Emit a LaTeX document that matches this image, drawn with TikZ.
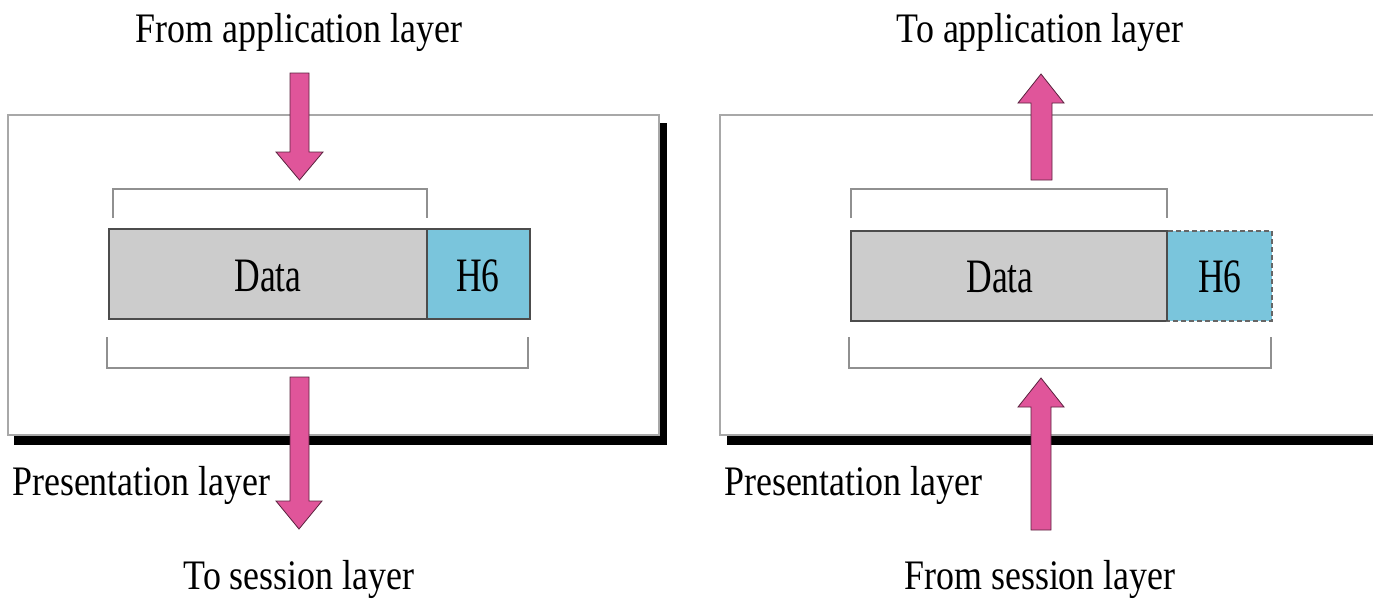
\documentclass[tikz,border=0pt]{standalone}
\usepackage{fontspec}
\setmainfont{Liberation Serif}
\newcommand{\lbl}[1]{\scalebox{0.855}[1]{\fontsize{42}{50}\selectfont #1}}
\newcommand{\blbl}[1]{\scalebox{0.74}[1]{\fontsize{48}{56}\selectfont #1}}
\definecolor{pinkarrow}{HTML}{E0559A}
\definecolor{hcyan}{HTML}{7AC5DC}
\definecolor{dgray}{HTML}{CCCCCC}
\definecolor{framegray}{HTML}{A8A8A8}
\definecolor{brgray}{HTML}{909090}
\tikzset{
  frame/.style={draw=framegray, line width=2pt, fill=white},
  shadowbar/.style={fill=black},
  databox/.style={draw=black!70, line width=1.2pt, fill=dgray},
  hbox/.style={draw=black!70, line width=1.2pt, fill=hcyan},
  hdash/.style={draw=black!60, line width=1.2pt, dashed, dash pattern=on 5pt off 3pt, fill=hcyan},
  bracket/.style={draw=brgray, line width=1.5pt},
  blockarrow/.style={fill=pinkarrow, draw=black!60!pinkarrow, line width=0.8pt, line join=miter},
  lab/.style={inner sep=0pt, anchor=base}
}
\begin{document}
\begin{tikzpicture}[x=1pt, y=-1pt]
\useasboundingbox (0,0) rectangle (1373,598);
% ---------- left panel ----------
\fill[shadowbar] (14,436) rectangle (667,445);
\fill[shadowbar] (659,123) rectangle (667,445);
\draw[frame] (8,115) rectangle (659,435);
\draw[databox] (109,229) rectangle (427,319);
\draw[hbox] (427,229) rectangle (530,319);
\node[lab] (ldata) at (268,291) {\blbl{Data}};
\node[lab] (lh6) at (478,291) {\blbl{H6}};
\draw[bracket] (113,218) -- (113,189) -- (427,189) -- (427,218);
\draw[bracket] (107,337) -- (107,368) -- (528,368) -- (528,337);
% top arrow (down)
\draw[blockarrow] (290,73) -- (309,73) -- (309,152) -- (323,152) -- (299.5,180) -- (276,152) -- (290,152) -- cycle;
% bottom arrow (down)
\draw[blockarrow] (290,377) -- (309,377) -- (309,501) -- (322,501) -- (299,529) -- (276,501) -- (290,501) -- cycle;
\node[lab] (lfrom) at (299,42) {\lbl{From application layer}};
\node[lab] (lto) at (299,589) {\lbl{To session layer}};
\node[lab, anchor=base west] (lpres) at (12,495) {\lbl{Presentation layer}};
% ---------- right panel ----------
\fill[shadowbar] (727,436) rectangle (1380,445);
\draw[frame] (720,115) rectangle (1385,435);
\draw[databox] (851,231) rectangle (1167,321);
\draw[hdash] (1167,231) rectangle (1272,321);
\draw[black!70, line width=1.2pt] (1167,231) -- (1167,321);
\node[lab] (rdata) at (1000,292) {\blbl{Data}};
\node[lab] (rh6) at (1220,292) {\blbl{H6}};
\draw[bracket] (851,218) -- (851,189) -- (1167,189) -- (1167,218);
\draw[bracket] (849,337) -- (849,368) -- (1271,368) -- (1271,337);
% top arrow (up)
\draw[blockarrow] (1031,180) -- (1052,180) -- (1052,103) -- (1064,103) -- (1041,74) -- (1018,103) -- (1031,103) -- cycle;
% bottom arrow (up)
\draw[blockarrow] (1031,530) -- (1051,530) -- (1051,407) -- (1064,407) -- (1041,378) -- (1018,407) -- (1031,407) -- cycle;
\node[lab] (rto) at (1040,42) {\lbl{To application layer}};
\node[lab] (rfrom) at (1040,589) {\lbl{From session layer}};
\node[lab, anchor=base west] (rpres) at (724,495) {\lbl{Presentation layer}};
\end{tikzpicture}
\end{document}
